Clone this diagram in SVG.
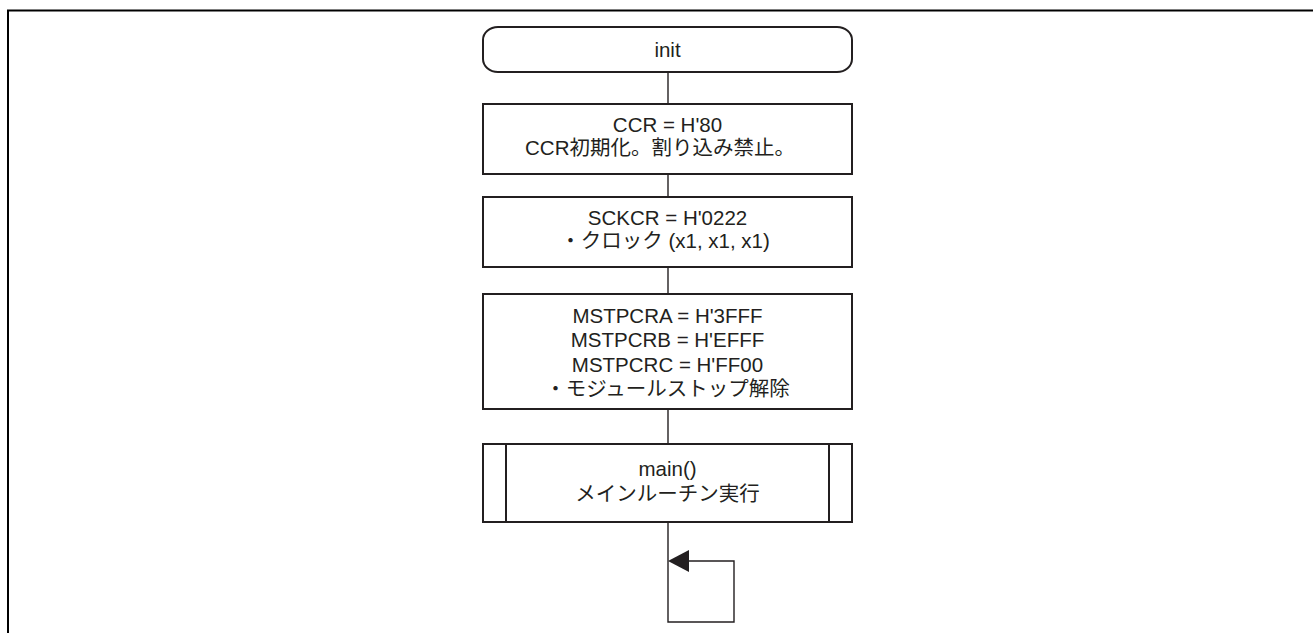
<svg xmlns="http://www.w3.org/2000/svg" width="1313" height="633" viewBox="0 0 1313 633">
<defs>
<style>
.box{fill:#fff;stroke:#231f20;stroke-width:2}
.ln{fill:none;stroke:#231f20;stroke-width:1.4}
.t{font-family:"Liberation Sans","Noto Sans CJK JP",sans-serif;font-size:20.5px;fill:#231f20;text-anchor:middle}
</style>
</defs>
<rect x="0" y="0" width="1313" height="633" fill="#fff"/>
<path d="M8,633 V10.5 H1313" fill="none" stroke="#000" stroke-width="2"/>
<g id="connectors">
<path class="ln" d="M668,72 V104"/>
<path class="ln" d="M668,174 V197"/>
<path class="ln" d="M668,267 V294"/>
<path class="ln" d="M668,409 V444"/>
<path class="ln" d="M668,522 V622 H734 V561 H688"/>
<polygon points="668,561 689,550 689,572" fill="#231f20"/>
</g>
<g id="init">
<rect class="box" x="483" y="27" width="369" height="45" rx="15" ry="13"/>
<text class="t" x="667.5" y="57">init</text>
</g>
<g id="ccr">
<rect class="box" x="483" y="104" width="369" height="70"/>
<text class="t" x="667.5" y="132">CCR = H'80</text>
<text class="t" x="660" y="155">CCR初期化。割り込み禁止。</text>
</g>
<g id="sckcr">
<rect class="box" x="483" y="197" width="369" height="70"/>
<text class="t" x="667.5" y="225">SCKCR = H'0222</text>
<text class="t" x="665" y="248">・クロック (x1, x1, x1)</text>
</g>
<g id="mstpcr">
<rect class="box" x="483" y="294" width="369" height="115"/>
<text class="t" x="667.5" y="322.5">MSTPCRA = H'3FFF</text>
<text class="t" x="667.5" y="347">MSTPCRB = H'EFFF</text>
<text class="t" x="667.5" y="371.5">MSTPCRC = H'FF00</text>
<text class="t" x="667.5" y="396">・モジュールストップ解除</text>
</g>
<g id="main">
<rect class="box" x="483" y="444" width="369" height="78"/>
<path class="box" d="M506,444 V522 M829,444 V522"/>
<text class="t" x="667.5" y="476">main()</text>
<text class="t" x="667.5" y="501">メインルーチン実行</text>
</g>
</svg>
